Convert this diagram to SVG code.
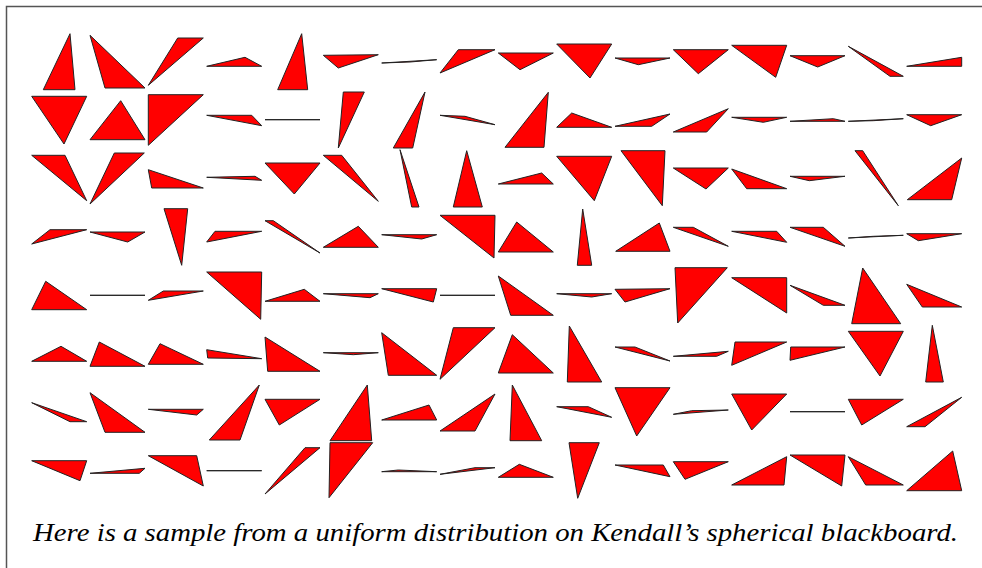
<svg xmlns="http://www.w3.org/2000/svg" width="982" height="568" viewBox="0 0 982 568">
<style>
.t{fill:#ff0000;stroke:#222;stroke-width:1;stroke-linejoin:miter}
.cap{font-family:"Liberation Serif",serif;font-style:italic;font-size:26px;fill:#000}
</style>
<rect width="982" height="568" fill="#fff"/>
<path d="M6.5 568V6.5H982" fill="none" stroke="#555" stroke-width="1.5"/>
<g id="triangles" class="t">
<!-- row 1 -->
<polygon points="43.3,89.7 70,33.7 75,89.7"/>
<polygon points="90,35.3 105,88 145,88"/>
<polygon points="148.3,85.3 177.7,38 203.3,38"/>
<polygon points="206.7,66.3 245,57.3 261.7,66.3"/>
<polygon points="277.7,89.7 301.7,33.7 307.7,89.7"/>
<polygon points="323.3,55.3 378.3,54.7 338.3,68"/>
<polygon points="381.7,63 436.7,59.7 410,62"/>
<polygon points="440,73 458.3,49.7 495,49.7"/>
<polygon points="498.3,53 553.3,53 520,69.7"/>
<polygon points="556.7,44 611.7,44 590,78"/>
<polygon points="615,58 670,58 638.3,64.7"/>
<polygon points="673.3,49.7 728.3,49.7 698.3,73.7"/>
<polygon points="731.7,45.3 786.7,45.3 775.7,77.3"/>
<polygon points="790,55.7 845,55.7 817.7,67"/>
<polygon points="848.3,46.3 903.3,76.3 890,76.3"/>
<polygon points="906.7,66.3 961.7,57.3 961.7,66.3"/>
<!-- row 2 -->
<polygon points="31.7,96.3 86.7,96.3 64,144"/>
<polygon points="90,139.7 120.7,100.7 145,139.7"/>
<polygon points="148.3,94.7 203.3,94.7 148.3,145.3"/>
<polygon points="206.7,115.3 251.7,115.3 261.7,125.7"/>
<polygon points="265,119.7 320,119.7 290,119.7"/>
<polygon points="338.3,148 343.3,92 364.3,92"/>
<polygon points="393.3,148 425,92 412.7,148"/>
<polygon points="440,115.3 465,116.3 495,124.7"/>
<polygon points="505,147.3 548.3,92.3 544,147.3"/>
<polygon points="556.7,127.3 571.7,113 611.7,127.3"/>
<polygon points="615,126.3 670,114 651.7,126.3"/>
<polygon points="673.3,132 728.3,108.7 706.7,132"/>
<polygon points="731.7,117.3 786.7,117.3 763.3,122.3"/>
<polygon points="790,121.3 845,121.3 833.3,118.7"/>
<polygon points="848.3,121.3 903.3,118.7 873.3,120.7"/>
<polygon points="906.7,114.7 961.7,114.7 930.7,125.7"/>
<!-- row 3 -->
<polygon points="31.7,155.3 65,155.3 86.7,200.7"/>
<polygon points="90,204 114.3,153 144.3,153"/>
<polygon points="148.3,169.7 151.7,188 203.3,188"/>
<polygon points="206.7,177.3 255,176.3 261.7,180.3"/>
<polygon points="265,163 320,163 294.3,194"/>
<polygon points="323.3,155.3 341.7,155.3 378.3,201.3"/>
<polygon points="400,149.7 411.7,207 419,207"/>
<polygon points="453.3,207 466.7,150.7 482.3,207"/>
<polygon points="498.3,184 541.7,173 553.3,184"/>
<polygon points="556.7,156.3 611.7,156.3 594.3,200.7"/>
<polygon points="621,150.7 665,150.7 662.3,205.7"/>
<polygon points="673.3,168 728.3,168 706,189"/>
<polygon points="731.7,169 746.7,188.7 786.7,188.7"/>
<polygon points="790,176.3 845,176.3 809.3,180.7"/>
<polygon points="855,150.7 862.7,150.7 898.3,205.7"/>
<polygon points="907.3,199.7 961.7,158 951.7,199.7"/>
<!-- row 4 -->
<polygon points="31.7,244 50,229.7 86.7,229.7"/>
<polygon points="90,232 145,232 127.7,242"/>
<polygon points="164,208.7 187.7,208.7 181.7,265.3"/>
<polygon points="206.7,242 215,231.3 261.7,231.3"/>
<polygon points="265,220.7 273.3,220.7 320,253"/>
<polygon points="323.3,247.3 358.3,226.3 378.3,247.3"/>
<polygon points="381.7,234.7 436.7,234.7 421.7,239"/>
<polygon points="440,215.3 495,215.3 494,258"/>
<polygon points="498.3,252 516.7,222 553.3,252"/>
<polygon points="577.3,265.3 582.7,209 591.7,265.3"/>
<polygon points="615.7,251.3 659.3,223 670,251.3"/>
<polygon points="673.3,227.3 693.3,227.3 728.3,246.3"/>
<polygon points="731.7,231.3 776.7,231.3 786.7,242.3"/>
<polygon points="790,227.3 823.3,227.3 845,246.3"/>
<polygon points="848.3,238 903.3,235.3 873.3,236.3"/>
<polygon points="906.7,233.7 961.7,233.7 918.3,240.7"/>
<!-- row 5 -->
<polygon points="31.7,309.7 45.7,281.3 86.7,309.7"/>
<polygon points="90,295.3 145,295.3 117,295.3"/>
<polygon points="148.3,300.3 163.3,291 203.3,291"/>
<polygon points="206.7,272 261.7,272 260.7,319.3"/>
<polygon points="265,301.3 304.3,289.3 320,301.3"/>
<polygon points="323.3,293.7 378.3,293.7 370,297.7"/>
<polygon points="381.7,288.7 436.7,288.7 433.3,302"/>
<polygon points="440,295.3 495,295.3 467,295.3"/>
<polygon points="498.3,276 510.7,315.3 553.3,315.3"/>
<polygon points="556.7,293.7 611.7,293.7 591.7,297"/>
<polygon points="615,289.3 670,288.7 625,302"/>
<polygon points="675,267.7 727.3,267.7 677.7,323"/>
<polygon points="731.7,277.7 786.7,277.7 786.7,313"/>
<polygon points="790,285.3 823.3,305.3 845,305.3"/>
<polygon points="851.7,323.7 862.7,268 900.7,323.7"/>
<polygon points="906.7,284.3 922.3,307 961.7,307"/>
<!-- row 6 -->
<polygon points="31.7,361.3 61,346.3 86.7,361.3"/>
<polygon points="90,366.3 99.3,342 145,366.3"/>
<polygon points="148.3,364.3 160,343.7 203.3,364.3"/>
<polygon points="206.7,349.7 207.7,358 261.7,358.7"/>
<polygon points="265,337 267.7,371.3 320,371.3"/>
<polygon points="323.3,352.7 378.3,352.7 353.3,354.7"/>
<polygon points="381.7,332.7 388.3,375.3 436.7,375.3"/>
<polygon points="440,379.3 453.3,327.7 495,327.7"/>
<polygon points="498.3,373 512.3,334.7 553.3,373"/>
<polygon points="567.3,382 569.3,326 601.7,382"/>
<polygon points="615,347 635,347 670,361"/>
<polygon points="673.3,356.3 728.3,351.3 716.7,356.3"/>
<polygon points="731.7,365.3 735,342 786.7,342"/>
<polygon points="790,360.3 790.7,347 845,347"/>
<polygon points="848.3,331.3 903.3,331.3 880,376"/>
<polygon points="925.7,382 932.3,325.3 943.3,382"/>
<!-- row 7 -->
<polygon points="31.7,402.7 70,421.7 86.7,421.7"/>
<polygon points="90,392.7 105,432.3 145,432.3"/>
<polygon points="148.3,409.3 203.3,409.3 196.7,415"/>
<polygon points="209.3,440 259.3,385 240,440"/>
<polygon points="265,399.3 320,399.3 279.3,425"/>
<polygon points="330,440.7 367.3,385 371.7,440.7"/>
<polygon points="381.7,420 429,405 436.7,420"/>
<polygon points="440,431 495,394 475,431"/>
<polygon points="510,440.7 512.3,385 541.7,440.7"/>
<polygon points="556.7,406.7 588.3,406.7 611.7,417.3"/>
<polygon points="615,387.7 670,387.7 636.7,436"/>
<polygon points="673.3,414.3 728.3,410 691.7,410.7"/>
<polygon points="731.7,394 786.7,394 751.7,430"/>
<polygon points="790,411.7 845,411.7 817,411.7"/>
<polygon points="848.3,399.3 903.3,399.3 861.7,425"/>
<polygon points="906.7,426.7 961.7,397.3 925,426.7"/>
<!-- row 8 -->
<polygon points="31.7,460.7 86.7,460.7 80,480.7"/>
<polygon points="90,473.3 145,468.3 139.3,473.3"/>
<polygon points="148.3,455.7 196.7,455.7 203.3,486"/>
<polygon points="206.7,470.7 261.7,470.7 234,470.7"/>
<polygon points="265,494 305,447.7 320,447.7"/>
<polygon points="329,497.7 330,442.7 372.7,442.7"/>
<polygon points="381.7,471.7 398.3,470 436.7,471.7"/>
<polygon points="440,474.3 475,467.7 495,467.7"/>
<polygon points="498.3,477.3 519.3,464.3 553.3,477.3"/>
<polygon points="569,442.7 599.3,442.7 577.7,498.3"/>
<polygon points="615,465 663.3,465 670,476.7"/>
<polygon points="673.3,461.7 728.3,461.7 685,479.3"/>
<polygon points="731.7,485 786.7,456.7 784,485"/>
<polygon points="790,455 845,455 841.7,486"/>
<polygon points="848.3,456.7 865.7,485 903.3,485"/>
<polygon points="906.7,490.7 952.7,451 961.7,490.7"/>
</g>
<text class="cap" x="33" y="541" textLength="925" lengthAdjust="spacingAndGlyphs">Here is a sample from a uniform distribution on Kendall’s spherical blackboard.</text>
</svg>
